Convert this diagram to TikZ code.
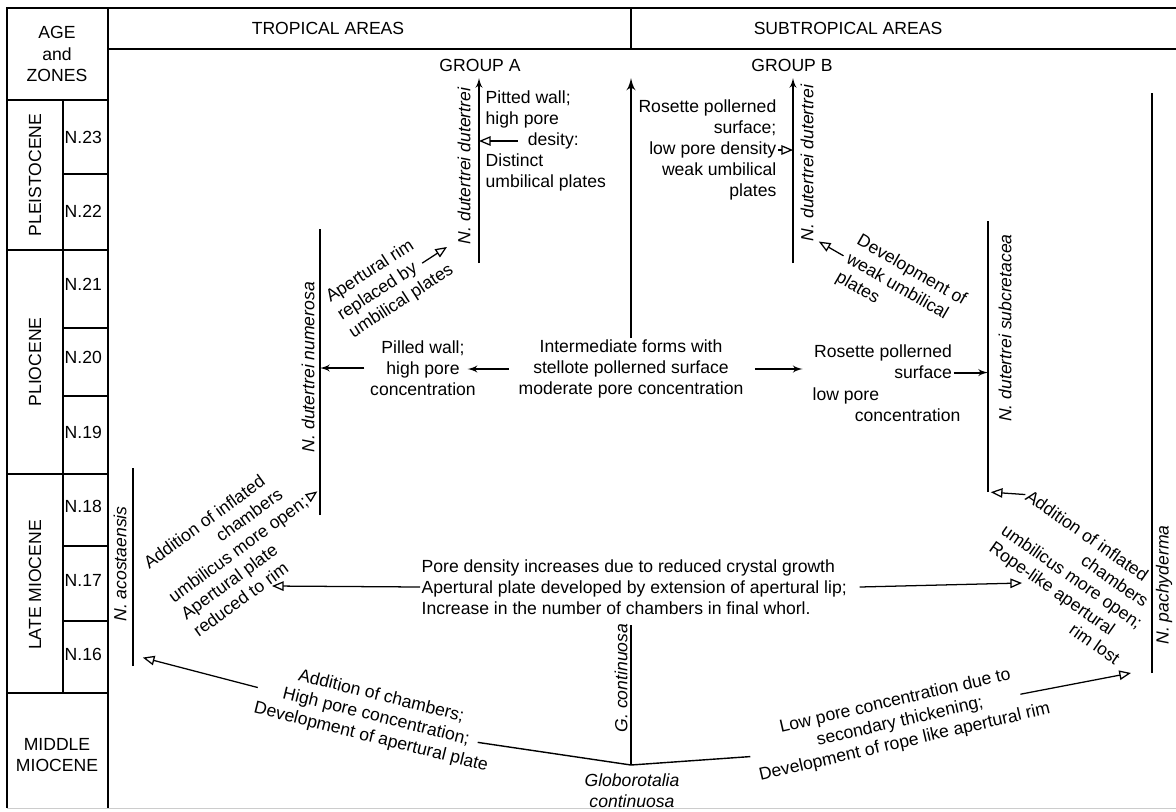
\documentclass[tikz,border=0pt]{standalone}
\usepackage{fontspec}
\setmainfont{Liberation Sans}
\usetikzlibrary{arrows}
\usetikzlibrary{calc}
\tikzstyle{txt} = [font=\fontsize{12.5}{15}\selectfont, inner sep=1pt]
\tikzstyle{species} = [font=\fontsize{12.5}{15}\selectfont\itshape, inner sep=1pt, rotate=90]
\tikzstyle{tablerule} = [line width=1.4pt]
\tikzstyle{lineage} = [line width=1.5pt]
\tikzstyle{trend} = [->,>=latex',line width=1.4pt]
\tikzstyle{note} = [->,>=open triangle 45,line width=0.9pt]
\newcommand{\gap}{7pt}

\begin{document}
\begin{tikzpicture}[x=0.025cm,y=-0.025cm]
  \useasboundingbox (0,0) rectangle (1176,811);

  % Frame
  \draw[tablerule] (7,808) -- (7,8) -- (1176,8);
  \draw[tablerule] (108,8) -- (108,808);
  \draw[tablerule] (108,49) -- (1176,49);
  \draw[tablerule] (631,8) -- (631,49);
  \draw[gray!40] (7,808) -- (1176,808);

  % Age and zones column
  \foreach \y in {100,250,474,693} \draw[tablerule] (7,\y) -- (108,\y);
  \foreach \y in {174,328,396,546,621} \draw[tablerule] (63,\y) -- (108,\y);
  \draw[tablerule] (63,100) -- (63,693);

  \node[txt, align=center] (agezones) at (57,54) {AGE\\and\\ZONES};
  \node[txt, rotate=90] (pleisto) at (35,175) {PLEISTOCENE};
  \node[txt, rotate=90] (plio) at (35,362) {PLIOCENE};
  \node[txt, rotate=90] (latemio) at (35,585) {LATE MIOCENE};
  \node[txt, align=center] (midmio) at (57,755) {MIDDLE\\MIOCENE};
  \foreach \y/\z in {137/23,211/22,284/21,357/20,432/19,506/18,580/17,654/16}
    \node[txt, anchor=west] (zone\z) at (63,\y) {N.\z};

  % Headers
  \node[txt] (tropical) at (328,28) {TROPICAL AREAS};
  \node[txt] (subtropical) at (848,28) {SUBTROPICAL AREAS};
  \node[txt] (groupA) at (480,65) {GROUP A};
  \node[txt] (groupB) at (792,65) {GROUP B};

  % Lineages
  \coordinate (ddAtop) at (479,78);
  \coordinate (ddAbot) at (479,263);
  \coordinate (ddBtop) at (793,78);
  \coordinate (ddBbot) at (793,263);
  \coordinate (ctop) at (631,78);
  \coordinate (numTop) at (320,229);
  \coordinate (numBot) at (320,515);
  \coordinate (subTop) at (988,221);
  \coordinate (subBot) at (988,492);
  \coordinate (pachyTop) at (1152,93);
  \coordinate (pachyBot) at (1152,673);
  \coordinate (acoTop) at (133,468);
  \coordinate (acoBot) at (133,666);
  \coordinate (gcTop) at (631,625);
  \coordinate (gcBot) at (631,765);

  \draw[trend] (ddAbot) -- (ddAtop);
  \draw[trend] (ddBbot) -- (ddBtop);
  \draw[lineage] (numBot) -- (numTop);
  \draw[lineage] (subBot) -- (subTop);
  \draw[lineage] (pachyBot) -- (pachyTop);
  \draw[lineage] (acoBot) -- (acoTop);
  \draw[lineage] (gcBot) -- (gcTop);

  \node[species] (ddAlbl) at (464,166) {N. dutertrei dutertrei};
  \node[species] (ddBlbl) at (807,163) {N. dutertrei dutertrei};
  \node[species] (numLbl) at (308,367) {N. dutertrei numerosa};
  \node[species] (subLbl) at (1005,328) {N. dutertrei subcretacea};
  \node[species] (pachyLbl) at (1164,585) {N. pachyderma};
  \node[species] (acoLbl) at (120,564) {N. acostaensis};
  \node[species] (gcLbl) at (621,678) {G. continuosa};

  % Group A
  \node[txt, align=left, anchor=west] (pittedA) at (484,141) {Pitted wall;\\high pore\\\hspace*{2.4em}desity:\\Distinct\\umbilical plates};
  \draw[note] ([xshift=24pt]pittedA.west) -- (pittedA.west -| ddAtop);

  % Group B
  \node[txt, align=right, anchor=east] (rosetteB) at (778,150) {Rosette pollerned\\surface;\\low pore density\\weak umbilical\\plates};
  \draw[note] (rosetteB.east) -- (rosetteB.east -| ddBtop);

  % Intermediate forms
  \node[txt, align=center] (interm) at (631,369) {Intermediate forms with\\stellote pollerned surface\\moderate pore concentration};
  \draw[trend, line width=2pt] (interm.north) -- (ctop);

  \node[txt, align=center] (pilled) at (423,368) {Pilled wall;\\high pore\\concentration};
  \draw[trend] ([xshift=-6pt]interm.west) -- ([xshift=-\gap]interm.west -| pilled.east);
  \draw[trend] ([xshift=-3pt]pilled.west) -- (pilled.west -| numTop);

  \node[txt, align=right] (rosette) at (883,362) {Rosette pollerned\\surface};
  \node[txt, align=left, anchor=west] (lowpore) at (811,405) {low pore\\\hspace*{2.4em}concentration};
  \draw[trend] ([xshift=\gap]interm.east) -- ([xshift=-\gap]interm.east -| rosette.west);
  \draw[trend] ([yshift=-7.5pt]rosette.east) -- ([yshift=-7.5pt]rosette.east -| subTop);

  % Diagonal notes
  \node[txt, align=left, rotate=33] (rimA) at (390,284) {Apertural rim\\replaced by\\umbilical plates};
  \draw[note] ($(rimA.center)!0.62!(rimA.east)$) -- ($(rimA.center)!1.1!(rimA.east)$);

  \node[txt, align=left, rotate=-30] (devB) at (901,289) {Development of\\weak umbilical\\plates};
  \draw[note] ($(devB.center)!1.05!(devB.west)$) -- ($(devB.center)!1.5!(devB.west)$);

  \node[txt, align=left, rotate=36] (inflA) at (238,549) {Addition of inflated\\\hspace*{4.2em}chambers\\umbilicus more open;\\Apertural plate\\reduced to rim};
  \draw[note] ($(inflA.center)!1.02!(inflA.east)$) -- ($(inflA.center)!1.15!(inflA.east)$);

  \node[txt, align=left, rotate=-35] (inflB) at (1073,577) {Addition of inflated\\\hspace*{4.7em}chambers\\umbilicus more open;\\Rope-like apertural\\\hspace*{6.4em}rim lost};
  \draw[note, shorten >=2pt] ($(inflB.north west)!0.1!(inflB.south west)$) -- (subBot);

  % Miocene trends
  \node[txt, align=left, anchor=west] (poreInc) at (420,587) {Pore density increases due to reduced crystal growth\\Apertural plate developed by extension of apertural lip;\\Increase in the number of chambers in final whorl.};
  \coordinate (rimTip) at (272,586);
  \coordinate (ropeTip) at (1022,583);
  \draw[note] (poreInc.west) -- (rimTip);
  \draw[note] ([xshift=8pt]poreInc.east) -- (ropeTip);

  % Globorotalia continuosa
  \node[txt, align=center, font=\fontsize{12.5}{15}\selectfont\itshape] (globo) at (632,791) {Globorotalia\\continuosa};
  \node[txt, align=center, rotate=-14] (addChA) at (376,717) {Addition of chambers;\\High pore concentration;\\Development of apertural plate};
  \node[txt, align=center, rotate=13] (lowPoreB) at (900,722) {Low pore concentration due to\\secondary thickening;\\Development of rope like apertural rim};
  \draw[line width=1pt] (gcBot) -- ($(addChA.center)!0.86!(addChA.east)$);
  \draw[line width=1pt] (gcBot) -- ($(lowPoreB.center)!1.02!(lowPoreB.west)$);
  \draw[note] (addChA.west) -- ([xshift=7pt,yshift=6pt]acoBot);
  \draw[note] ($(lowPoreB.center)!0.82!(lowPoreB.east)$) -- ([xshift=-15pt]pachyBot);

\end{tikzpicture}
\end{document}
